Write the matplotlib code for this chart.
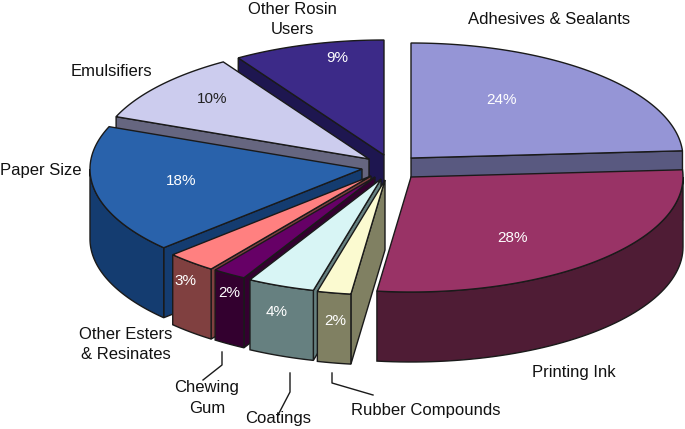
import numpy as np
import matplotlib
matplotlib.use('Agg')
import matplotlib.pyplot as plt

plt.rcParams['font.family'] = ['Liberation Sans', 'DejaVu Sans']

# share of rosin use, clockwise from 12 o'clock
names = ['Adhesives & Sealants', 'Printing Ink', 'Rubber Compounds', 'Coatings', 'Chewing Gum',
         'Other Esters & Resinates', 'Paper Size', 'Emulsifiers', 'Other Rosin Users']
values = [24, 28, 2, 4, 2, 3, 18, 10, 9]

top_colors = ['#9595D6', '#993366', '#FBFAD0', '#D8F5F5', '#660066', '#FF8080', '#2962AB', '#CCCCEE', '#3C2A88']
side_colors = ['#595980', '#4F1C35', '#808062', '#668080', '#33002F', '#804040', '#143C70', '#666680', '#1E1650']
pct_colors = ['white'] * 7 + ['#222222', 'white']

# exploded apex of every slice, in pixels
apex_x = [411, 411, 385, 381, 375, 371, 362, 369, 384]
apex_y = [158, 177, 180, 179, 177, 176, 169, 159, 155]
pct_x = [502, 513, 335, 277, 229, 185, 181, 212, 337]
pct_y = [100, 238, 321, 312, 293, 281, 181, 99, 58]

rx, ry = 272, 115
depth = 70
edge = '#1a1a1a'
# back to front
draw_order = [8, 7, 0, 6, 5, 4, 3, 2, 1]

fig = plt.figure(figsize=(6.85, 4.29), dpi=100)
ax = fig.add_axes([0, 0, 1, 1])
ax.set_xlim(0, 685)
ax.set_ylim(429, 0)
ax.axis('off')

edges = np.cumsum([0] + values) / sum(values) * 360


def point(i, deg):
    t = np.radians(deg)
    return apex_x[i] + rx * np.sin(t), apex_y[i] - ry * np.cos(t)


for i in draw_order:
    a0, a1 = edges[i], edges[i + 1]
    cx, cy = apex_x[i], apex_y[i]
    # cut faces that look towards the viewer
    if a0 > 180:
        x, y = point(i, a0)
        ax.fill([cx, x, x, cx], [cy, y, y + depth, cy + depth], color=side_colors[i], ec=edge, lw=1)
    if a1 < 180:
        x, y = point(i, a1)
        ax.fill([cx, x, x, cx], [cy, y, y + depth, cy + depth], color=side_colors[i], ec=edge, lw=1)
    # outer rim
    r0, r1 = max(a0, 90), min(a1, 270)
    if r1 > r0:
        x, y = point(i, np.linspace(r0, r1, 60))
        ax.fill(np.r_[x, x[::-1]], np.r_[y, y[::-1] + depth], color=side_colors[i], ec=edge, lw=1)
    # top
    x, y = point(i, np.linspace(a0, a1, 80))
    ax.fill(np.r_[cx, x], np.r_[cy, y], color=top_colors[i], ec=edge, lw=1)

for i, v in enumerate(values):
    ax.text(pct_x[i], pct_y[i], f'{v}%', color=pct_colors[i], fontsize=11, ha='center', va='center')

labels = [('Adhesives & Sealants', 549.5, 20), ('Printing Ink', 573.5, 373), ('Rubber Compounds', 426, 410),
          ('Coatings', 278, 418), ('Chewing\nGum', 207, 398), ('Other Esters\n& Resinates', 126, 344.5),
          ('Paper Size', 41, 170), ('Emulsifiers', 111, 72), ('Other Rosin\nUsers', 292, 19.5)]
for txt, x, y in labels:
    ax.text(x, y, txt, color='#111111', fontsize=12, ha='center', va='center', linespacing=1.45)

# leader lines
ax.plot([222, 222, 203], [352, 365, 380], color=edge, lw=1)
ax.plot([290, 290, 278], [373, 392, 415], color=edge, lw=1)
ax.plot([332, 332, 373], [373, 383, 395], color=edge, lw=1)

fig.savefig('out.png', dpi=100)
